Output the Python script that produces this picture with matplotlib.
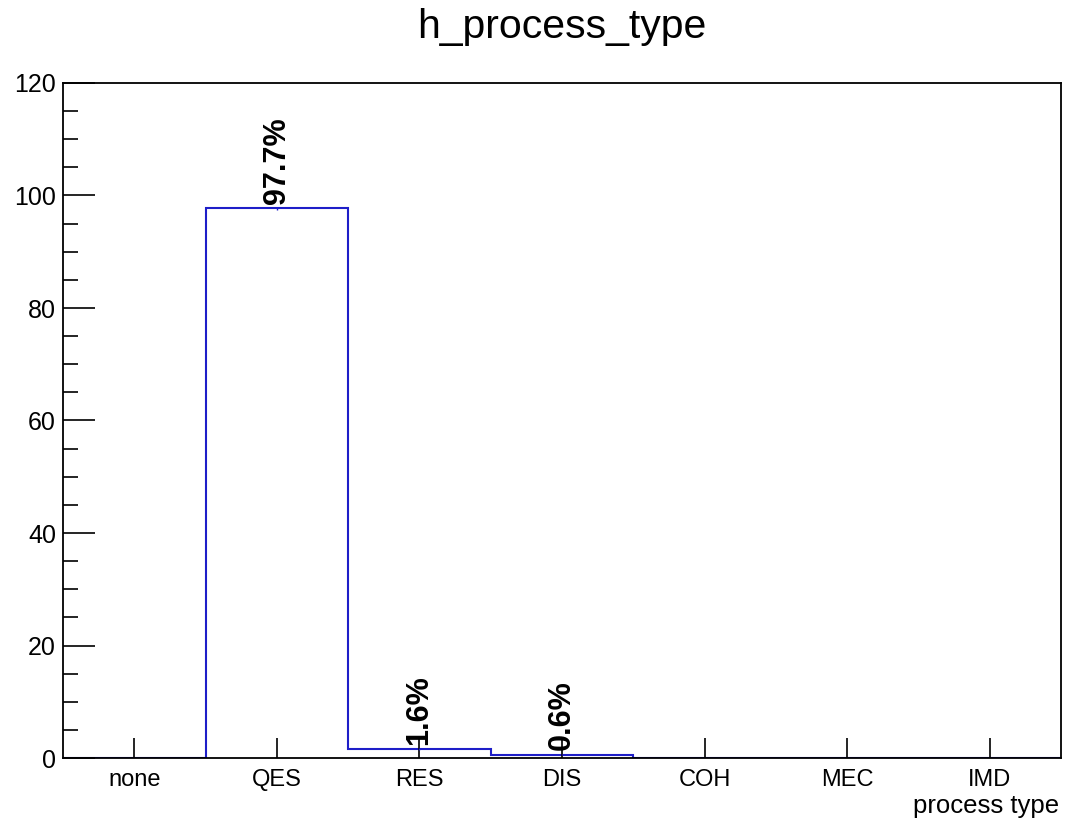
import numpy as np
import matplotlib
matplotlib.use("Agg")
import matplotlib.pyplot as plt
from matplotlib.ticker import MultipleLocator

plt.rcParams['font.family'] = ['Liberation Sans', 'DejaVu Sans']

# process type histogram (percent of events per bin)
process_types = ["none", "QES", "RES", "DIS", "COH", "MEC", "IMD"]
percent = [0.0, 97.7, 1.6, 0.6, 0.0, 0.0, 0.0]
errors = [0.0, 0.3, 0.1, 0.1, 0.0, 0.0, 0.0]
pct_labels = ["", "97.7%", "1.6%", "0.6%", "", "", ""]

line_col = "#1e1ec8"

fig = plt.figure(figsize=(10.66, 8.21), dpi=100)
ax = fig.add_axes([63 / 1066, 63 / 821, 998 / 1066, 675 / 821])

centers = np.arange(len(process_types))
edges = np.arange(len(process_types) + 1) - 0.5

ax.stairs(percent, edges, color=line_col, linewidth=1.5, baseline=0)
ax.errorbar(centers, percent, yerr=errors, fmt="none", ecolor=line_col,
            elinewidth=1.0, capsize=0)

for xc, val, lab in zip(centers, percent, pct_labels):
    if lab:
        ax.annotate(lab, (xc, val), xytext=(0, 3), textcoords="offset points",
                    rotation=90, ha="center", va="bottom",
                    fontsize=22, fontweight="bold")

ax.set_xlim(edges[0], edges[-1])
ax.set_ylim(0, 120)

ax.set_xticks(centers)
ax.set_xticklabels(process_types, fontsize=17)
ax.tick_params(axis="x", direction="in", length=14.5, width=1.2, pad=8,
               top=False)

ax.yaxis.set_major_locator(MultipleLocator(20))
ax.yaxis.set_minor_locator(MultipleLocator(5))
ax.tick_params(axis="y", which="major", direction="in", length=23, width=1.2,
               labelsize=18, pad=5, right=False)
ax.tick_params(axis="y", which="minor", direction="in", length=11, width=1.2,
               right=False)
ax.tick_params(axis="x", which="minor", bottom=False, top=False)

for sp in ax.spines.values():
    sp.set_linewidth(1.3)
    sp.set_zorder(5)

fig.text(562 / 1066, 1 - 27 / 821, "h_process_type", ha="center", va="center",
         fontsize=29.5)
fig.text(1059 / 1066, 1 - 806 / 821, "process type", ha="right", va="center",
         fontsize=18.5)

fig.savefig("out.png", dpi=100)
